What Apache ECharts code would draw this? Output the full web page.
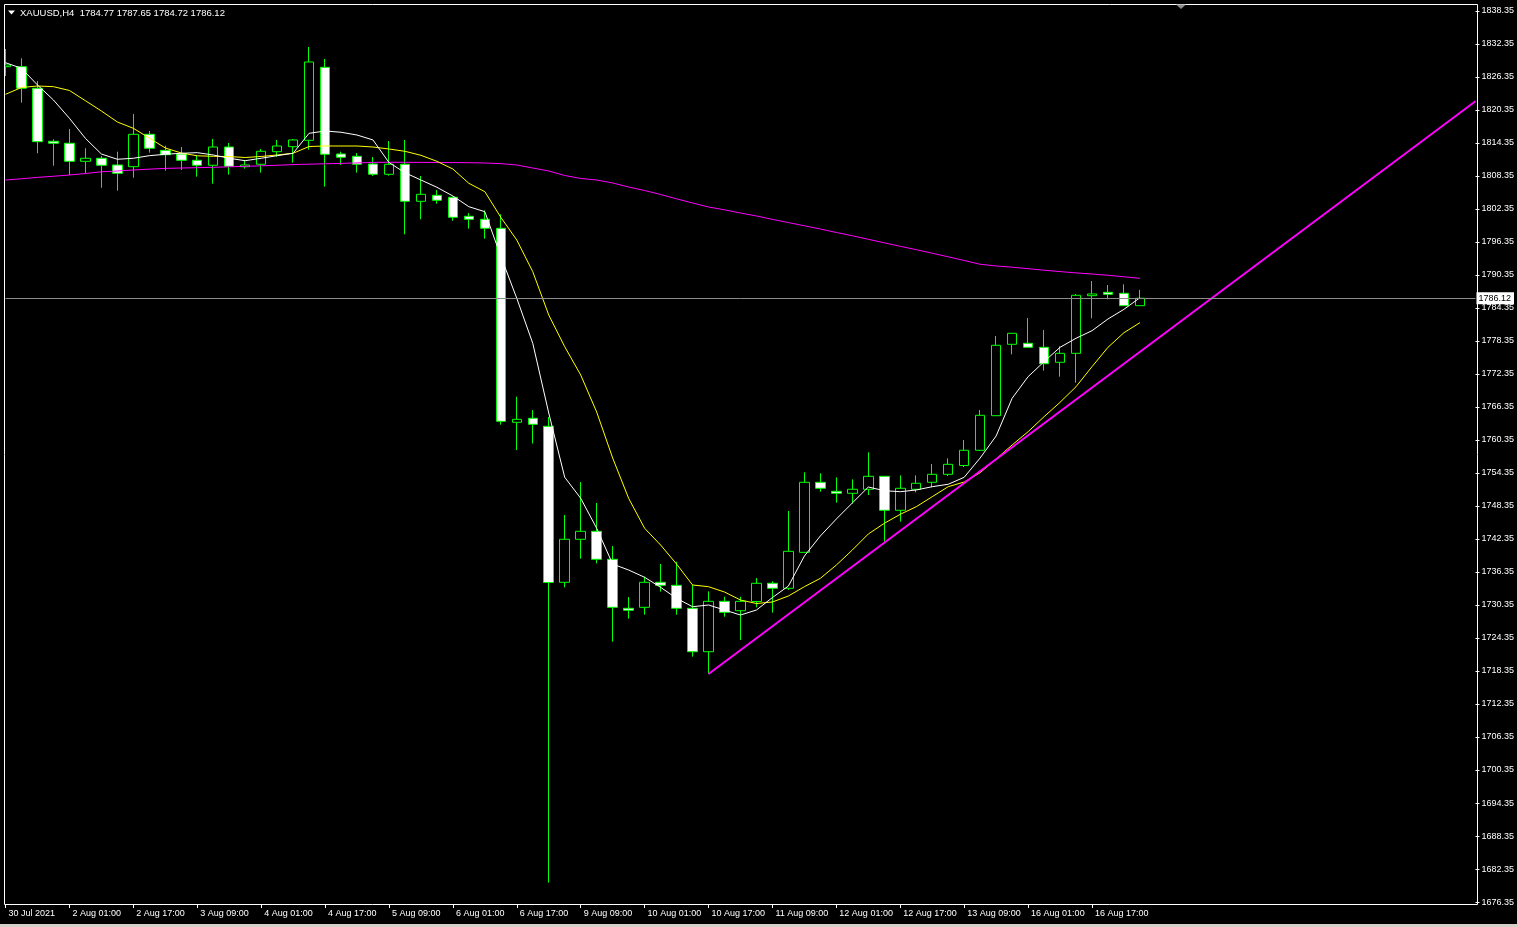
<!DOCTYPE html>
<html>
<head>
<meta charset="utf-8">
<script src="https://cdn.jsdelivr.net/npm/echarts@6/dist/echarts.min.js"></script>
<style>
html,body{margin:0;padding:0;background:#000;}
#chart{width:1517px;height:927px;}
</style>
</head>
<body>
<div id="chart"></div>
<script>
// ---- DATA ----
const symbolName = 'XAUUSD,H4';
const categories = [
 '30 Jul 09:00','30 Jul 13:00','30 Jul 17:00','30 Jul 21:00',
 '2 Aug 01:00','2 Aug 05:00','2 Aug 09:00','2 Aug 13:00','2 Aug 17:00','2 Aug 21:00',
 '3 Aug 01:00','3 Aug 05:00','3 Aug 09:00','3 Aug 13:00','3 Aug 17:00','3 Aug 21:00',
 '4 Aug 01:00','4 Aug 05:00','4 Aug 09:00','4 Aug 13:00','4 Aug 17:00','4 Aug 21:00',
 '5 Aug 01:00','5 Aug 05:00','5 Aug 09:00','5 Aug 13:00','5 Aug 17:00','5 Aug 21:00',
 '6 Aug 01:00','6 Aug 05:00','6 Aug 09:00','6 Aug 13:00','6 Aug 17:00','6 Aug 21:00',
 '9 Aug 01:00','9 Aug 05:00','9 Aug 09:00','9 Aug 13:00','9 Aug 17:00','9 Aug 21:00',
 '10 Aug 01:00','10 Aug 05:00','10 Aug 09:00','10 Aug 13:00','10 Aug 17:00','10 Aug 21:00',
 '11 Aug 01:00','11 Aug 05:00','11 Aug 09:00','11 Aug 13:00','11 Aug 17:00','11 Aug 21:00',
 '12 Aug 01:00','12 Aug 05:00','12 Aug 09:00','12 Aug 13:00','12 Aug 17:00','12 Aug 21:00',
 '13 Aug 01:00','13 Aug 05:00','13 Aug 09:00','13 Aug 13:00','13 Aug 17:00','13 Aug 21:00',
 '16 Aug 01:00','16 Aug 05:00','16 Aug 09:00','16 Aug 13:00','16 Aug 17:00','16 Aug 21:00',
 '17 Aug 01:00','17 Aug 05:00'
];
const emptyRightSlots = 21; // chart shift space to the right of the last bar
const xTickLabels = ['30 Jul 2021','2 Aug 01:00','2 Aug 17:00','3 Aug 09:00','4 Aug 01:00','4 Aug 17:00',
 '5 Aug 09:00','6 Aug 01:00','6 Aug 17:00','9 Aug 09:00','10 Aug 01:00','10 Aug 17:00',
 '11 Aug 09:00','12 Aug 01:00','12 Aug 17:00','13 Aug 09:00','16 Aug 01:00','16 Aug 17:00'];
const xTickEvery = 4;
const yTickLabels = [1676.35,1682.35,1688.35,1694.35,1700.35,1706.35,1712.35,1718.35,1724.35,1730.35,
 1736.35,1742.35,1748.35,1754.35,1760.35,1766.35,1772.35,1778.35,1784.35,1790.35,1796.35,1802.35,
 1808.35,1814.35,1820.35,1826.35,1832.35,1838.35];

const open = [1828.22,1828.22,1824.30,1814.66,1814.30,1811.02,1811.57,1810.35,1810.04,1815.93,
 1813.02,1812.35,1811.20,1810.30,1813.62,1810.04,1810.48,1812.77,1813.68,1814.84,
 1828.11,1812.35,1811.93,1810.53,1808.66,1810.48,1803.75,1804.84,1804.48,1801.02,
 1800.48,1798.84,1763.57,1764.30,1762.84,1734.48,1742.30,1743.75,1738.66,1729.75,
 1729.93,1734.48,1733.93,1729.75,1721.86,1731.02,1729.31,1730.99,1734.30,1733.39,
 1739.93,1752.66,1751.02,1750.66,1751.39,1753.75,1747.57,1751.39,1752.66,1754.11,
 1755.71,1758.48,1764.77,1777.75,1777.93,1777.20,1774.48,1776.11,1786.59,1787.20,
 1787.02,1784.77];
const high = [1831.44,1829.75,1825.62,1815.02,1816.90,1813.39,1811.99,1812.77,1819.62,1816.53,
 1813.86,1813.62,1812.17,1815.08,1814.35,1811.26,1813.26,1814.90,1815.08,1831.80,
 1829.62,1812.77,1812.53,1811.80,1814.71,1814.90,1808.35,1805.80,1804.59,1801.62,
 1802.11,1801.39,1768.22,1765.80,1764.53,1746.71,1752.71,1748.90,1741.08,1731.80,
 1735.50,1737.80,1738.22,1733.99,1732.84,1731.86,1731.86,1735.26,1734.66,1747.44,
 1754.48,1754.30,1753.57,1753.20,1758.11,1753.80,1753.93,1753.93,1755.99,1757.02,
 1760.35,1765.80,1779.26,1779.80,1782.53,1780.35,1777.39,1786.90,1789.26,1788.53,
 1788.66,1787.65];
const low = [1826.53,1821.68,1812.48,1810.22,1808.53,1808.84,1806.22,1805.68,1808.04,1812.59,
 1809.31,1809.44,1808.22,1806.95,1808.59,1809.68,1808.95,1811.86,1810.77,1813.13,
 1806.40,1810.35,1808.95,1808.35,1808.40,1797.75,1800.48,1803.31,1800.22,1798.77,
 1796.95,1763.13,1758.53,1759.71,1679.86,1733.57,1738.77,1737.93,1723.68,1727.86,
 1728.59,1732.77,1728.59,1720.95,1717.80,1728.22,1723.99,1729.93,1728.95,1733.08,
 1739.80,1750.95,1748.95,1748.84,1750.35,1741.86,1745.50,1750.84,1751.75,1753.80,
 1755.44,1758.35,1764.71,1775.93,1777.20,1772.95,1771.86,1770.77,1782.48,1785.93,
 1784.72,1784.72];
const close = [1828.53,1824.30,1814.59,1814.30,1811.02,1811.57,1810.30,1808.84,1815.93,1813.39,
 1812.22,1811.20,1810.30,1813.62,1810.11,1810.35,1812.84,1813.80,1814.90,1829.08,
 1812.30,1811.75,1810.48,1808.66,1810.48,1803.75,1805.02,1803.93,1800.84,1800.48,
 1798.84,1763.75,1764.11,1763.20,1734.44,1742.30,1743.75,1738.66,1729.93,1729.39,
 1734.48,1733.93,1729.75,1721.86,1731.02,1729.02,1731.02,1734.30,1733.39,1740.11,
 1752.66,1751.57,1750.66,1751.39,1753.75,1747.57,1751.57,1752.48,1754.11,1755.93,
 1758.48,1764.84,1777.57,1779.75,1777.20,1774.22,1776.11,1786.66,1786.90,1786.84,
 1784.77,1786.12];

// moving averages (white = fast, yellow = medium, magenta = slow)
const maFast = [1828.95,1827.93,1824.90,1822.17,1818.84,1815.20,1812.35,1811.39,1811.57,1812.04,
 1812.30,1812.48,1812.59,1812.17,1811.57,1811.13,1811.57,1812.04,1812.48,1816.11,
 1816.53,1816.30,1815.80,1814.90,1810.80,1808.95,1807.62,1806.30,1804.71,1802.77,
 1801.86,1793.75,1786.11,1777.93,1765.26,1753.57,1749.75,1744.30,1737.80,1736.71,
 1735.39,1733.57,1731.57,1730.04,1730.35,1729.44,1728.53,1729.44,1731.71,1733.80,
 1739.26,1742.90,1745.99,1748.90,1751.80,1751.13,1750.95,1751.26,1751.86,1752.30,
 1753.57,1757.08,1761.08,1767.93,1771.86,1774.59,1777.20,1778.84,1780.22,1782.35,
 1784.11,1786.22];
const maMid = [1823.20,1824.44,1824.71,1824.59,1823.90,1822.04,1820.17,1818.17,1817.02,1815.26,
 1813.44,1812.53,1812.02,1811.93,1811.88,1811.71,1811.90,1812.17,1812.48,1813.71,
 1813.80,1813.80,1813.80,1813.62,1813.26,1812.84,1812.11,1811.02,1809.62,1807.02,
 1805.50,1800.84,1796.71,1790.95,1783.08,1777.31,1772.17,1765.44,1757.08,1749.75,
 1744.30,1741.26,1737.80,1733.99,1733.68,1732.71,1731.26,1730.62,1730.90,1731.99,
 1733.68,1735.20,1737.62,1740.35,1743.26,1745.20,1746.84,1748.22,1750.04,1751.86,
 1752.71,1754.40,1756.90,1759.44,1761.86,1764.59,1767.20,1770.04,1773.68,1777.20,
 1779.86,1781.68];
const maSlow = [1807.62,1807.84,1808.10,1808.30,1808.53,1808.80,1809.11,1809.26,1809.44,1809.59,
 1809.73,1809.80,1809.86,1809.93,1810.02,1810.11,1810.20,1810.30,1810.42,1810.50,
 1810.57,1810.64,1810.73,1810.82,1810.84,1810.84,1810.82,1810.80,1810.79,1810.77,
 1810.71,1810.60,1810.35,1809.80,1809.26,1808.44,1807.90,1807.62,1807.08,1806.35,
 1805.71,1804.99,1804.20,1803.44,1802.71,1802.20,1801.62,1801.08,1800.46,1799.88,
 1799.30,1798.71,1798.08,1797.48,1796.84,1796.20,1795.57,1794.95,1794.31,1793.66,
 1792.99,1792.30,1791.99,1791.77,1791.50,1791.22,1790.97,1790.73,1790.53,1790.30,
 1790.02,1789.75];

// trend line anchors: [bar index, price]
const trendStart = [44, 1717.80];
const trendEnd = [92, 1821.95];

const yMin = 1675.99, yMax = 1839.62;

// ---- CHART ----
const FONT = 'Liberation Sans';
const chart = echarts.init(document.getElementById('chart'));
const axisCats = categories.concat(new Array(emptyRightSlots).fill(''));
const ohlc = categories.map((c, i) => [open[i], close[i], low[i], high[i]]);
const n = categories.length;
const tickShown = (idx) => idx % xTickEvery === 0 && idx < n;
const last = n - 1;
const lastPrice = close[last];
const headerText = symbolName + '  ' + [open[last], high[last], low[last], close[last]].map(v => v.toFixed(2)).join(' ');

chart.setOption({
  backgroundColor: '#000000',
  animation: false,
  grid: { left: 5.5, right: 39.5, top: 4, bottom: 23 },
  xAxis: {
    type: 'category',
    data: axisCats,
    boundaryGap: false,
    axisLine: { show: false },
    axisTick: { show: true, interval: (i) => tickShown(i), length: 4, lineStyle: { color: '#ffffff', width: 1 } },
    axisLabel: {
      show: true, interval: (i) => tickShown(i),
      formatter: (v, i) => xTickLabels[i / xTickEvery] || '',
      align: 'left', padding: [0, 0, 0, 3], margin: 5,
      color: '#ffffff', fontFamily: FONT, fontSize: 9
    },
    splitLine: { show: false }
  },
  yAxis: {
    type: 'value', position: 'right', scale: true,
    min: yMin, max: yMax,
    axisLine: { show: false },
    splitLine: { show: false },
    axisTick: { show: true, customValues: yTickLabels, length: 4, lineStyle: { color: '#ffffff', width: 1 } },
    axisLabel: {
      show: true, customValues: yTickLabels,
      formatter: (v) => Number(v).toFixed(2),
      margin: 6, color: '#ffffff', fontFamily: FONT, fontSize: 9
    }
  },
  series: [
    {
      type: 'candlestick', name: 'price', data: ohlc, barWidth: 10, clip: false, z: 2,
      itemStyle: { color: '#000000', color0: '#ffffff', borderColor: '#00ff00', borderColor0: '#00ff00', borderWidth: 1 },
      markLine: {
        symbol: 'none', silent: true, animation: false,
        lineStyle: { color: '#8c8c8c', width: 1, type: 'solid' },
        label: { show: true, position: 'end', formatter: lastPrice.toFixed(2), backgroundColor: '#ffffff', color: '#000000',
                 padding: [2, 3, 1, 2], fontFamily: FONT, fontSize: 9, distance: 1 },
        emphasis: { disabled: true },
        data: [{ yAxis: lastPrice }]
      }
    },
    { type: 'line', name: 'MA slow', data: maSlow, symbol: 'none', z: 3, lineStyle: { color: '#ff00ff', width: 1 } },
    { type: 'line', name: 'MA mid', data: maMid, symbol: 'none', z: 3, lineStyle: { color: '#ffff00', width: 1 } },
    { type: 'line', name: 'MA fast', data: maFast, symbol: 'none', z: 3, lineStyle: { color: '#ffffff', width: 1 } },
    { type: 'line', name: 'trend', data: [trendStart, trendEnd], symbol: 'none', z: 4, lineStyle: { color: '#ff00ff', width: 2 } }
  ],
  graphic: [
    { type: 'rect', z: 100, silent: true, shape: { x: 0, y: 0, width: 4, height: 905 }, style: { fill: '#000000' } },
    { type: 'rect', z: 101, silent: true, shape: { x: 4.5, y: 4.5, width: 1473, height: 900 }, style: { fill: null, stroke: '#ffffff', lineWidth: 1 } },
    { type: 'polygon', z: 102, silent: true, shape: { points: [[8, 10.5], [15, 10.5], [11.5, 14.5]] }, style: { fill: '#ffffff' } },
    { type: 'text', z: 102, silent: true, x: 20, y: 13, style: { text: headerText, fill: '#ffffff', font: '9.5px ' + FONT, textVerticalAlign: 'middle' } },
    { type: 'polygon', z: 102, silent: true, shape: { points: [[1176, 4.5], [1186, 4.5], [1181, 9]] }, style: { fill: '#8c8c8c' } },
    { type: 'rect', z: 102, silent: true, shape: { x: 0, y: 924, width: 1517, height: 3 }, style: { fill: '#d4d0c8' } }
  ]
});
</script>
</body>
</html>
